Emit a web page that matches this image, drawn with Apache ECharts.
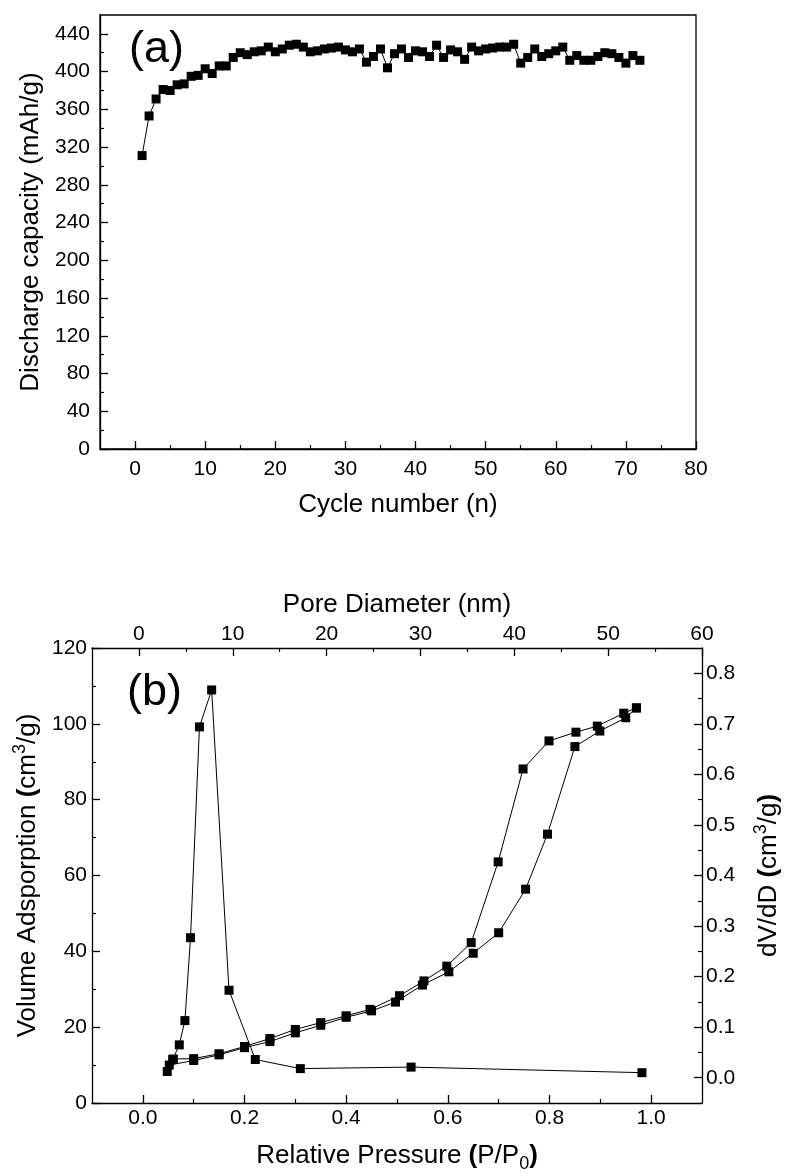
<!DOCTYPE html>
<html>
<head>
<meta charset="utf-8">
<script src="https://cdn.jsdelivr.net/npm/echarts@6/dist/echarts.min.js"></script>
<style>
html,body{margin:0;padding:0;background:#fff;}
#c{width:790px;height:1176px;}
</style>
</head>
<body>
<div id="c"></div>
<script>
// ---- Panel (a): discharge capacity vs cycle ----
const cycles = [1,2,3,4,5,6,7,8,9,10,11,12,13,14,15,16,17,18,19,20,21,22,23,24,25,26,27,28,29,30,31,32,33,34,35,36,
  37,38,39,40,41,42,43,44,45,46,47,48,49,50,51,52,53,54,55,56,57,58,59,60,61,62,63,64,65,66,67,68,69,70,71,72];
const capacity = [311,353,371,381,380,386,387,395,396,403,398,406,406,415,420,418,421,422,426,421,424,428,429,426,
  421,422,424,425,426,423,421,424,410,416,424,404,419,424,415,422,421,416,428,415,423,421,413,426,422,424,425,426,
  426,429,409,415,424,416,419,422,426,412,417,412,412,416,420,419,415,409,417,412];
const cycleTicks = [0,10,20,30,40,50,60,70,80];
const cycleMinor = [5,15,25,35,45,55,65,75];
const capTicks = [0,40,80,120,160,200,240,280,320,360,400,440];
const capMinor = [20,60,100,140,180,220,260,300,340,380,420];

// ---- Panel (b): N2 isotherm and pore size distribution ----
const adsP = [0.048,0.052,0.10,0.15,0.20,0.25,0.30,0.35,0.40,0.45,0.497,0.55,0.602,0.65,0.70,0.753,0.796,0.85,0.899,0.95,0.971];
const adsV = [8.3,10.0,11.2,12.7,14.6,16.2,18.5,20.5,22.6,24.3,26.6,31.1,34.6,39.5,44.9,56.4,70.9,94.0,98.1,101.6,104.2];
const desP = [0.971,0.946,0.894,0.852,0.799,0.748,0.699,0.646,0.598,0.553,0.505,0.447,0.40,0.35,0.30,0.25,0.20,0.15,0.10,0.06];
const desV = [104.2,102.8,99.4,97.8,95.5,88.1,63.6,42.3,36.1,32.2,28.3,24.7,23.0,21.2,19.4,17.0,14.9,13.0,11.7,11.6];
const poreD = [3.6,4.3,4.9,5.5,6.45,7.75,9.6,12.4,17.2,29.0,53.6];
const dVdD = [0.036,0.065,0.113,0.277,0.694,0.767,0.173,0.036,0.018,0.021,0.010];
const pTicks = [0,0.2,0.4,0.6,0.8,1.0];
const pMinor = [0.1,0.3,0.5,0.7,0.9];
const vTicks = [0,20,40,60,80,100,120];
const vMinor = [10,30,50,70,90,110];
const dTicks = [0,10,20,30,40,50,60];
const dMinor = [5,15,25,35,45,55];
const psdTicks = [0,0.1,0.2,0.3,0.4,0.5,0.6,0.7,0.8];
const psdMinor = [0.05,0.15,0.25,0.35,0.45,0.55,0.65,0.75];

const FONT = "'Liberation Sans', Arial, sans-serif";
const LBL = 21, NAME = 26;
const line = {show:true, onZero:false, lineStyle:{color:'#000', width:1.3}};
const noLine = {show:false, onZero:false};

function mainAxis(o){
  return Object.assign({
    type:'value', splitLine:{show:false}, axisLine:line,
    axisTick:{show:true, inside:true, length:8, lineStyle:{color:'#000', width:1.3}, customValues:o.ticks},
    axisLabel:{show:true, color:'#000', fontSize:LBL, fontFamily:FONT, margin:o.margin, customValues:o.ticks, formatter:o.fmt},
    nameTextStyle:{color:'#000', fontSize:NAME, fontFamily:FONT, rich:o.rich||{}},
  }, o.extra);
}
function minorAxis(o){
  return Object.assign({
    type:'value', splitLine:{show:false}, axisLine:noLine, axisLabel:{show:false},
    axisTick:{show:true, inside:true, length:4, lineStyle:{color:'#000', width:1.2}, customValues:o.ticks},
  }, o.extra);
}
const f1 = v => v.toFixed(1);
const f0 = v => String(Math.round(v));

const rich = {
  n:{fontSize:NAME, fontFamily:FONT, color:'#000', lineHeight:34},
  b:{fontSize:NAME, fontFamily:FONT, color:'#000', fontWeight:'bold', lineHeight:34},
  s:{fontSize:18, fontFamily:FONT, color:'#000', verticalAlign:'top', lineHeight:34},
  u:{fontSize:18, fontFamily:FONT, color:'#000', verticalAlign:'bottom', lineHeight:34}
};

const option = {
  animation:false,
  backgroundColor:'#fff',
  textStyle:{fontFamily:FONT, color:'#000'},
  grid:[
    {left:100, top:15, width:596, height:434, show:true, borderColor:'#000', borderWidth:1.3, backgroundColor:'transparent'},
    {left:92, top:648, width:612, height:455}
  ],
  xAxis:[
    mainAxis({ticks:cycleTicks, margin:10, fmt:f0, extra:{gridIndex:0, position:'bottom', min:-5, max:80,
      name:'Cycle number (n)', nameLocation:'middle', nameGap:43}}),
    minorAxis({ticks:cycleMinor, extra:{gridIndex:0, position:'bottom', min:-5, max:80}}),
    mainAxis({ticks:pTicks, margin:5, fmt:f1, rich:rich, extra:{gridIndex:1, position:'bottom', min:-0.1, max:1.1,
      name:'{n|Relative Pressure }{b|(}{n|P/P}{u|0}{b|)}', nameLocation:'middle', nameGap:36}}),
    mainAxis({ticks:dTicks, margin:3, fmt:f0, extra:{gridIndex:1, position:'top', min:-5, max:60,
      name:'Pore Diameter (nm)', nameLocation:'middle', nameGap:30}}),
    minorAxis({ticks:pMinor, extra:{gridIndex:1, position:'bottom', min:-0.1, max:1.1}}),
    minorAxis({ticks:dMinor, extra:{gridIndex:1, position:'top', min:-5, max:60}})
  ],
  yAxis:[
    mainAxis({ticks:capTicks, margin:10, fmt:f0, extra:{gridIndex:0, position:'left', min:0, max:460,
      name:'Discharge capacity (mAh/g)', nameLocation:'middle', nameGap:55, nameRotate:90}}),
    minorAxis({ticks:capMinor, extra:{gridIndex:0, position:'left', min:0, max:460}}),
    mainAxis({ticks:vTicks, margin:5, fmt:f0, rich:rich, extra:{gridIndex:1, position:'left', min:0, max:120,
      name:'{n|Volume Adsporption }{b|(}{n|cm}{s|3}{n|/g)}', nameLocation:'middle', nameGap:46, nameRotate:90}}),
    mainAxis({ticks:psdTicks, margin:4, fmt:f1, rich:rich, extra:{gridIndex:1, position:'right', min:-0.05, max:0.85,
      name:'{n|dV/dD }{b|(}{n|cm}{s|3}{n|/g}{b|)}', nameLocation:'middle', nameGap:50, nameRotate:90}}),
    minorAxis({ticks:vMinor, extra:{gridIndex:1, position:'left', min:0, max:120}}),
    minorAxis({ticks:psdMinor, extra:{gridIndex:1, position:'right', min:-0.05, max:0.85}})
  ],
  series:[
    {type:'line', xAxisIndex:0, yAxisIndex:0, data:cycles.map((c,i)=>[c,capacity[i]]),
      symbol:'rect', symbolSize:9, itemStyle:{color:'#000'}, lineStyle:{color:'#000', width:1}},
    {type:'line', xAxisIndex:2, yAxisIndex:2, data:adsP.map((p,i)=>[p,adsV[i]]),
      symbol:'rect', symbolSize:9, itemStyle:{color:'#000'}, lineStyle:{color:'#000', width:1}},
    {type:'line', xAxisIndex:2, yAxisIndex:2, data:desP.map((p,i)=>[p,desV[i]]),
      symbol:'rect', symbolSize:9, itemStyle:{color:'#000'}, lineStyle:{color:'#000', width:1}},
    {type:'line', xAxisIndex:3, yAxisIndex:3, data:poreD.map((d,i)=>[d,dVdD[i]]),
      symbol:'rect', symbolSize:9, itemStyle:{color:'#000'}, lineStyle:{color:'#000', width:1}}
  ],
  graphic:[
    {type:'text', left:129, top:27, style:{text:'(a)', fontSize:45, fontFamily:FONT, fill:'#000'}},
    {type:'text', left:127, top:670, style:{text:'(b)', fontSize:45, fontFamily:FONT, fill:'#000'}}
  ]
};
const chart = echarts.init(document.getElementById('c'), null, {renderer:'canvas'});
chart.setOption(option);
</script>
</body>
</html>
